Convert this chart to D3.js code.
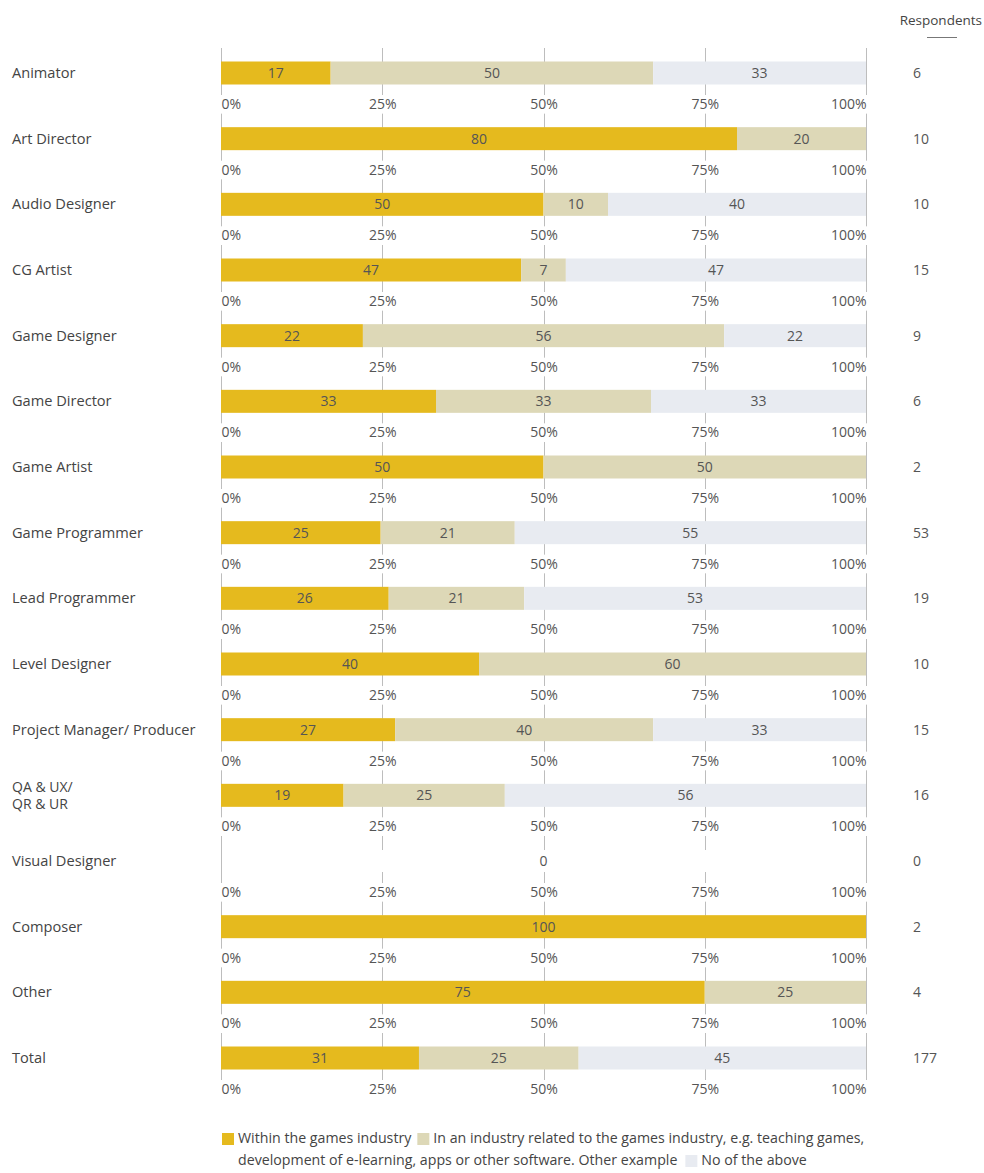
<!DOCTYPE html>
<html><head><meta charset="utf-8">
<script src="https://cdn.jsdelivr.net/npm/d3@7"></script>
<style>
html,body{margin:0;padding:0;background:#fff;}
svg{display:block;}
text{font-family:"Open Sans",Lato,sans-serif;}
</style></head>
<body>
<svg id="chart" width="984" height="1173"></svg>
<script>
const categories = ["Animator","Art Director","Audio Designer","CG Artist","Game Designer","Game Director","Game Artist","Game Programmer","Lead Programmer","Level Designer","Project Manager/ Producer","QA & UX/\nQR & UR","Visual Designer","Composer","Other","Total"];
const withinGames = [17,80,50,47,22,33,50,25,26,40,27,19,0,100,75,31];
const relatedIndustry = [50,20,10,7,56,33,50,21,21,60,40,25,0,0,25,25];
const noneOfAbove = [33,0,40,47,22,33,0,55,53,0,33,56,0,0,0,45];
const respondents = [6,10,10,15,9,6,2,53,19,10,15,16,0,2,4,177];
const tickValues = [0,25,50,75,100];
const seriesNames = ["Within the games industry","In an industry related to the games industry, e.g. teaching games, development of e-learning, apps or other software. Other example","No of the above"];
const colors = ["#E5BA1E","#DDD8B7","#E8EBF1"];

const svg = d3.select("#chart");
const x = d3.scaleLinear().domain([0,100]).range([221,866]);
const y = d3.scalePoint().domain(categories).range([73,1058]);
const barH = 23;
const gridColor = "#bdbdbd";
const labelFont = "'Open Sans', sans-serif";

// Respondents header
svg.append("text").attr("x",982).attr("y",25).attr("text-anchor","end").attr("font-size",13.5).attr("fill","#444").text("Respondents");
svg.append("line").attr("x1",927).attr("x2",957).attr("y1",37.5).attr("y2",37.5).attr("stroke","#777").attr("stroke-width",1);

const rows = categories.map((c,i)=>({cat:c, vals:[withinGames[i],relatedIndustry[i],noneOfAbove[i]], n:respondents[i]}));

rows.forEach(r=>{
  const cy = y(r.cat);
  const g = svg.append("g");
  // gridlines
  tickValues.forEach(t=>{
    const xx = Math.round(x(t))+0.5;
    if (t===0 || t===100) {
      g.append("line").attr("x1",xx).attr("x2",xx).attr("y1",cy-25).attr("y2",cy+22).attr("stroke",gridColor);
    } else {
      g.append("line").attr("x1",xx).attr("x2",xx).attr("y1",cy-25).attr("y2",cy-11).attr("stroke",gridColor);
      g.append("line").attr("x1",xx).attr("x2",xx).attr("y1",cy+11).attr("y2",cy+22).attr("stroke",gridColor);
    }
  });
  // bars
  const total = d3.sum(r.vals);
  if (total>0) {
    let cum = 0;
    const segs = r.vals.map((v,k)=>{const s={k,v,start:cum/total*100,end:(cum+v)/total*100}; cum+=v; return s;}).filter(s=>s.v>0);
    g.selectAll("rect.seg").data(segs).join("rect")
      .attr("x",d=>x(d.start)).attr("width",d=>x(d.end)-x(d.start))
      .attr("y",cy-barH/2).attr("height",barH).attr("fill",d=>colors[d.k]);
    g.selectAll("text.val").data(segs).join("text")
      .attr("x",d=>(x(d.start)+x(d.end))/2).attr("y",cy+5)
      .attr("text-anchor","middle").attr("font-size",14).attr("fill","#555")
      .text(d=>d.v);
  } else {
    g.append("text").attr("x",x(50)).attr("y",cy+5).attr("text-anchor","middle").attr("font-size",14).attr("fill","#555").text("0");
  }
  // axis tick labels
  const axis = d3.axisBottom(x).tickValues(tickValues).tickFormat(d=>d+"%").tickSize(0).tickPadding(0);
  const ag = svg.append("g").attr("transform",`translate(0,${cy+26})`).call(axis);
  ag.select(".domain").remove();
  ag.selectAll("text").attr("font-size",14).attr("fill","#555").attr("font-family",labelFont)
    .attr("dy","0.71em")
    .attr("text-anchor",d=>d===0?"start":(d===100?"end":"middle"));
  // category label
  const lines = r.cat.split("\n");
  const multi = lines.length > 1;
  lines.forEach((ln,j)=>{
    svg.append("text").attr("x",12).attr("y",cy+5+(j-(lines.length-1)/2)*17)
      .attr("font-size",multi?14:14.6).attr("fill","#444").text(ln);
  });
  // respondents
  svg.append("text").attr("x",913).attr("y",cy+5).attr("font-size",14).attr("fill","#555").text(r.n);
});

// Legend
const lg = svg.append("g").attr("font-size",14.2).attr("fill","#444");
function sq(xp,yp,c){ lg.append("rect").attr("x",xp).attr("y",yp-10).attr("width",12).attr("height",12).attr("fill",c); }
function tx(xp,yp,s){ const t = lg.append("text").attr("x",xp).attr("y",yp).attr("fill","#444").text(s); return t.node().getComputedTextLength(); }
let y1 = 1143, y2 = 1165;
let cx = 222;
sq(cx,y1,colors[0]); cx += 16;
cx += tx(cx,y1,seriesNames[0]) + 6;
sq(cx,y1,colors[1]); cx += 16;
const part = seriesNames[1].split(" development");
tx(cx,y1,part[0]);
let cx2 = 238;
cx2 += tx(cx2,y2,"development"+part[1]) + 8;
sq(cx2,y2,colors[2]); cx2 += 16;
tx(cx2,y2,seriesNames[2]);
</script>
</body></html>
